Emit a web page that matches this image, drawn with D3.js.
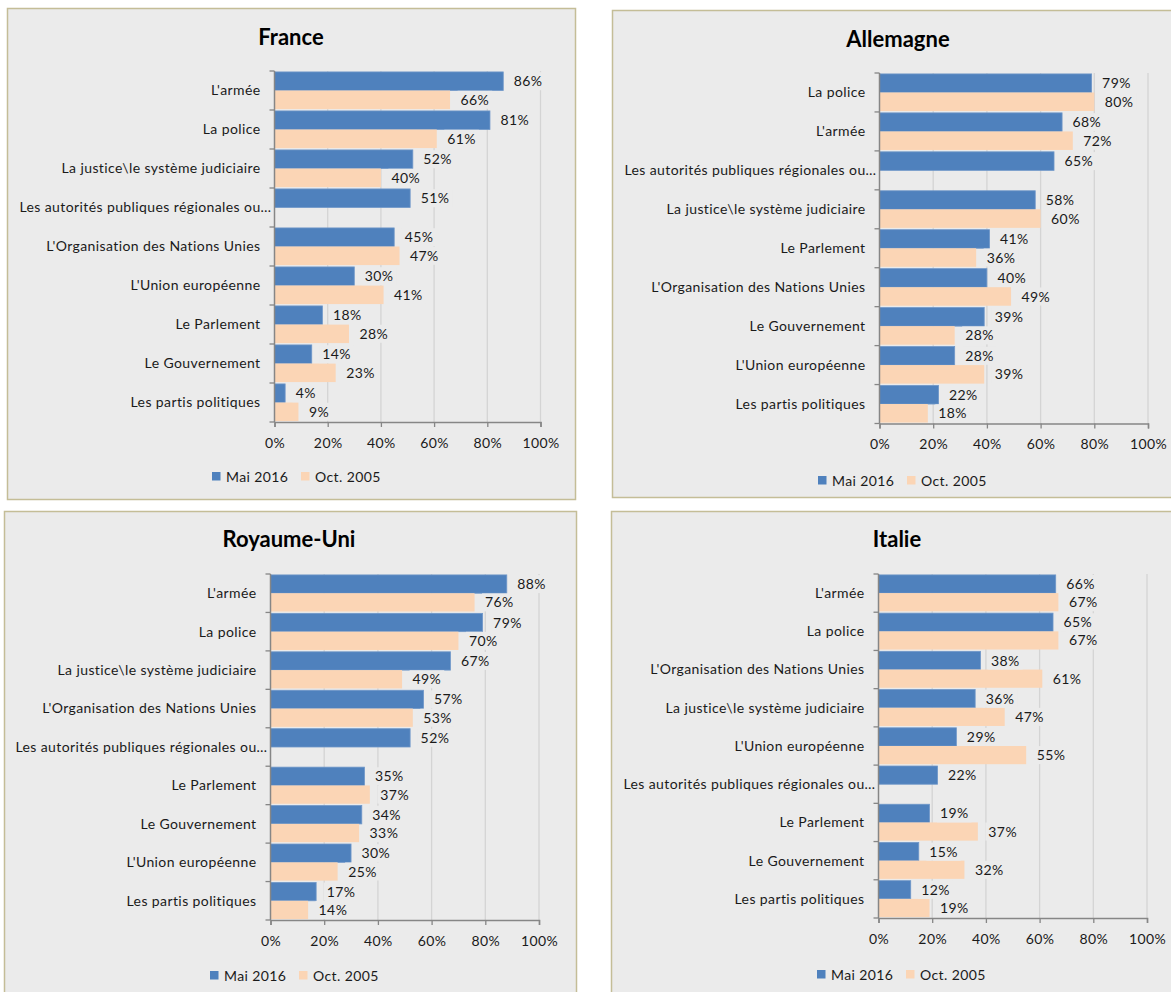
<!DOCTYPE html>
<html>
<head>
<meta charset="utf-8">
<script src="https://cdn.jsdelivr.net/npm/d3@7"></script>
<style>
  body { margin: 0; background: #ffffff; }
  svg { display: block; font-family: Lato, "Open Sans", sans-serif; }
  .lbl { letter-spacing: 0.4px; }
</style>
</head>
<body>
<svg id="chart" width="1171" height="992"></svg>
<script>
// --- data (values in %) ---
var seriesNames = ["Mai 2016", "Oct. 2005"];
var tickValues = [0, 20, 40, 60, 80, 100];

var franceCats = ["L'armée", "La police", "La justice\\le système judiciaire", "Les autorités publiques régionales ou…",
  "L'Organisation des Nations Unies", "L'Union européenne", "Le Parlement", "Le Gouvernement", "Les partis politiques"];
var franceMai = [86, 81, 52, 51, 45, 30, 18, 14, 4];
var franceOct = [66, 61, 40, null, 47, 41, 28, 23, 9];

var allemagneCats = ["La police", "L'armée", "Les autorités publiques régionales ou…", "La justice\\le système judiciaire",
  "Le Parlement", "L'Organisation des Nations Unies", "Le Gouvernement", "L'Union européenne", "Les partis politiques"];
var allemagneMai = [79, 68, 65, 58, 41, 40, 39, 28, 22];
var allemagneOct = [80, 72, null, 60, 36, 49, 28, 39, 18];

var ruCats = ["L'armée", "La police", "La justice\\le système judiciaire", "L'Organisation des Nations Unies",
  "Les autorités publiques régionales ou…", "Le Parlement", "Le Gouvernement", "L'Union européenne", "Les partis politiques"];
var ruMai = [88, 79, 67, 57, 52, 35, 34, 30, 17];
var ruOct = [76, 70, 49, 53, null, 37, 33, 25, 14];

var italieCats = ["L'armée", "La police", "L'Organisation des Nations Unies", "La justice\\le système judiciaire",
  "L'Union européenne", "Les autorités publiques régionales ou…", "Le Parlement", "Le Gouvernement", "Les partis politiques"];
var italieMai = [66, 65, 38, 36, 29, 22, 19, 15, 12];
var italieOct = [67, 67, 61, 47, 55, null, 37, 32, 19];

// --- layout ---
var colors = ["#4f81bd", "#fbd5b5"];
var bg = "#ebebeb";
var textColor = "#1a1a1a";

var panels = [
  {title: "France", cats: franceCats, mai: franceMai, oct: franceOct,
   box: [7.5, 8.5, 568, 491], plot: [274.5, 540.5, 71, 422], titleX: 291, titleY: 45, legend: [212, 472]},
  {title: "Allemagne", cats: allemagneCats, mai: allemagneMai, oct: allemagneOct,
   box: [612.5, 10.5, 600, 487], plot: [879.5, 1148, 73, 423.5], titleX: 898, titleY: 47, legend: [818, 476]},
  {title: "Royaume-Uni", cats: ruCats, mai: ruMai, oct: ruOct,
   box: [4.5, 511.5, 572, 500], plot: [270.5, 539, 574, 920], titleX: 289, titleY: 547, legend: [210, 971]},
  {title: "Italie", cats: italieCats, mai: italieMai, oct: italieOct,
   box: [611.5, 511.5, 600, 500], plot: [878.5, 1147, 574, 918], titleX: 897, titleY: 547, legend: [817, 970]}
];

var svg = d3.select("#chart");

panels.forEach(function(p) {
  var g = svg.append("g");

  g.append("rect")
    .attr("x", p.box[0]).attr("y", p.box[1])
    .attr("width", p.box[2]).attr("height", p.box[3])
    .attr("fill", bg)
    .attr("stroke", "#c4bd97")
    .attr("stroke-width", 1.5);

  g.append("text")
    .attr("x", p.titleX).attr("y", p.titleY)
    .attr("text-anchor", "middle")
    .attr("font-size", 22).attr("font-weight", "bold")
    .attr("fill", "#000")
    .text(p.title);

  var x = d3.scaleLinear().domain([0, 100]).range([p.plot[0], p.plot[1]]);
  var y = d3.scaleBand().domain(p.cats).range([p.plot[2], p.plot[3]]).padding(0);
  var sub = d3.scaleBand().domain([0, 1]).range([0, y.bandwidth()]).paddingInner(0).paddingOuter(0.05);

  // gridlines
  g.append("g").selectAll("line")
    .data(tickValues.slice(1))
    .join("line")
    .attr("x1", function(d) { return x(d); }).attr("x2", function(d) { return x(d); })
    .attr("y1", p.plot[2]).attr("y2", p.plot[3])
    .attr("stroke", "#d4d4d4").attr("stroke-width", 1.3);

  // bars
  var rows = p.cats.map(function(c, i) { return {cat: c, vals: [p.mai[i], p.oct[i]]}; });
  var items = [];
  rows.forEach(function(r) {
    r.vals.forEach(function(v, s) {
      if (v !== null) items.push({cat: r.cat, s: s, v: v});
    });
  });

  g.append("g").selectAll("rect")
    .data(items)
    .join("rect")
    .attr("x", x(0))
    .attr("y", function(d) { return y(d.cat) + sub(d.s); })
    .attr("width", function(d) { return x(d.v) - x(0); })
    .attr("height", sub.bandwidth())
    .attr("fill", function(d) { return colors[d.s]; })
    .attr("stroke", function(d) { return d.s === 0 ? "#6f97c9" : "none"; })
    .attr("stroke-width", 0.8);

  // value labels (with background like the source)
  var lab = g.append("g").selectAll("g")
    .data(items)
    .join("g")
    .attr("transform", function(d) {
      return "translate(" + (x(d.v) + 10.5) + "," + (y(d.cat) + sub(d.s) + sub.bandwidth() / 2) + ")";
    });
  lab.append("text")
    .attr("class", "lbl")
    .attr("dy", "0.36em")
    .attr("font-size", 14)
    .attr("fill", textColor)
    .text(function(d) { return d.v + "%"; });
  lab.each(function() {
    var t = d3.select(this).select("text");
    var w = t.node().getComputedTextLength();
    d3.select(this).insert("rect", "text")
      .attr("x", -3).attr("y", -9).attr("width", w + 6).attr("height", 18)
      .attr("fill", bg);
  });

  // y axis: line + boundary ticks + labels
  var ya = g.append("g");
  ya.append("line")
    .attr("x1", x(0)).attr("x2", x(0))
    .attr("y1", p.plot[2]).attr("y2", p.plot[3])
    .attr("stroke", "#868686").attr("stroke-width", 1.5);
  ya.selectAll("line.tk")
    .data(p.cats.map(function(c) { return y(c); }).concat([p.plot[3]]))
    .join("line").attr("class", "tk")
    .attr("x1", x(0) - 5).attr("x2", x(0))
    .attr("y1", function(d) { return d; }).attr("y2", function(d) { return d; })
    .attr("stroke", "#868686").attr("stroke-width", 1.3);
  ya.selectAll("text")
    .data(p.cats)
    .join("text")
    .attr("class", "lbl")
    .attr("x", function(d) { return d.slice(-1) === "…" ? x(0) - 3 : x(0) - 14; })
    .attr("y", function(d) { return y(d) + y.bandwidth() / 2; })
    .attr("dy", "0.35em")
    .attr("text-anchor", "end")
    .attr("font-size", 14)
    .attr("fill", textColor)
    .text(function(d) { return d; });

  // x axis
  var xa = g.append("g")
    .attr("transform", "translate(0," + p.plot[3] + ")")
    .call(d3.axisBottom(x).tickValues(tickValues).tickSize(5).tickPadding(11)
      .tickFormat(function(d) { return d + "%"; }));
  xa.select(".domain").attr("stroke", "#868686").attr("stroke-width", 1.5);
  xa.selectAll(".tick line").attr("stroke", "#868686").attr("stroke-width", 1.3);
  xa.selectAll(".tick text").attr("class", "lbl").attr("font-size", 14).attr("fill", textColor)
    .attr("font-family", "Lato, 'Open Sans', sans-serif");

  // legend
  var lg = g.append("g").attr("transform", "translate(" + p.legend[0] + "," + p.legend[1] + ")");
  var li = lg.selectAll("g").data(seriesNames).join("g")
    .attr("transform", function(d, i) { return "translate(" + (i * 89) + ",0)"; });
  li.append("rect").attr("width", 8.5).attr("height", 8.5)
    .attr("fill", function(d, i) { return colors[i]; });
  li.append("text").attr("class", "lbl").attr("x", 14).attr("y", 4.5).attr("dy", "0.36em")
    .attr("font-size", 14).attr("fill", textColor)
    .text(function(d) { return d; });
});
</script>
</body>
</html>
